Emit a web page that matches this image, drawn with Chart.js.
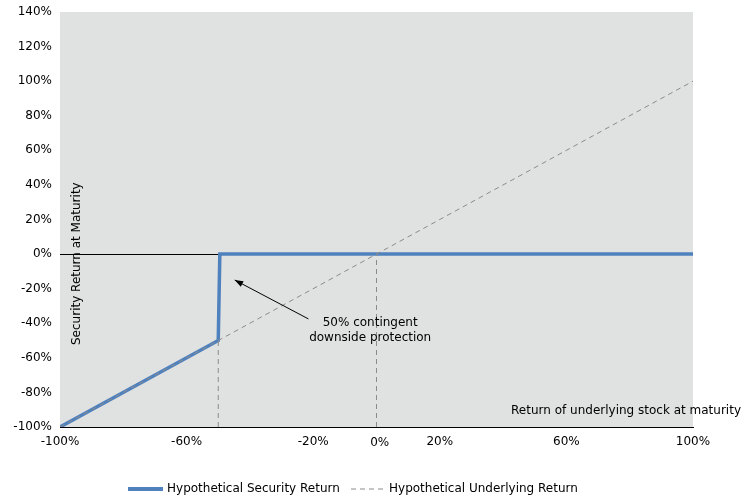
<!DOCTYPE html>
<html>
<head>
<script src="https://cdn.jsdelivr.net/npm/chart.js"></script>
<style>
  body { margin: 0; background: #fff; }
  #wrap { width: 746px; height: 501px; }
</style>
</head>
<body>
<div id="wrap"><canvas id="c"></canvas></div>
<script>
// values (x = underlying return %, y = security return %)
var securityX = [-100, -50, -49.5, 100];
var securityY = [-100, -50, 0, 0];
var underlyingX = [-100, 100];
var underlyingY = [-100, 100];
var barrierX = [-50, -50];
var barrierY = [-100, -50];
var zeroX = [0, 0];
var zeroY = [-100, 0];
var noteLines = ['50% contingent', 'downside protection'];

function pts(xs, ys) { return xs.map(function (x, i) { return { x: x, y: ys[i] }; }); }

var font = '12px "DejaVu Sans", Verdana, sans-serif';

var extras = {
  id: 'extras',
  beforeDatasetsDraw: function (chart) {
    var c = chart.ctx, a = chart.chartArea, y = chart.scales.y;
    c.save();
    c.fillStyle = '#e0e1e1';
    c.fillRect(a.left, a.top, a.right - a.left, a.bottom - a.top);
    c.strokeStyle = '#000'; c.lineWidth = 1;
    var y0 = Math.round(y.getPixelForValue(0)) + 0.5;
    c.beginPath(); c.moveTo(a.left, y0); c.lineTo(a.right, y0); c.stroke();
    c.restore();
  },
  afterDraw: function (chart) {
    var c = chart.ctx, a = chart.chartArea, x = chart.scales.x, y = chart.scales.y;
    c.save();
    c.font = font; c.fillStyle = '#000';
    // 0% label
    c.textAlign = 'center'; c.textBaseline = 'top';
    c.fillText('0%', x.getPixelForValue(1), a.bottom + 10);
    // axis titles inside plot
    c.textAlign = 'right'; c.textBaseline = 'bottom';
    c.fillText('Return of underlying stock at maturity', a.right + 48, a.bottom - 10);
    c.save();
    c.translate(a.left + 17, a.bottom - 82);
    c.rotate(-Math.PI / 2);
    c.textAlign = 'left'; c.textBaseline = 'middle';
    c.fillText('Security Return at Maturity', 0, 0);
    c.restore();
    // annotation
    c.textAlign = 'center'; c.textBaseline = 'middle';
    var tx = x.getPixelForValue(-2);
    c.fillText(noteLines[0], tx, y.getPixelForValue(-39.5));
    c.fillText(noteLines[1], tx, y.getPixelForValue(-48.5));
    var x1 = x.getPixelForValue(-21.5), y1 = y.getPixelForValue(-37.5);
    var x2 = x.getPixelForValue(-44.8), y2 = y.getPixelForValue(-15);
    c.strokeStyle = '#000'; c.lineWidth = 1;
    c.beginPath(); c.moveTo(x1, y1); c.lineTo(x2, y2); c.stroke();
    var ang = Math.atan2(y2 - y1, x2 - x1);
    c.beginPath();
    c.moveTo(x2, y2);
    c.lineTo(x2 - 9 * Math.cos(ang - 0.35), y2 - 9 * Math.sin(ang - 0.35));
    c.lineTo(x2 - 9 * Math.cos(ang + 0.35), y2 - 9 * Math.sin(ang + 0.35));
    c.closePath(); c.fill();
    // legend
    var ly = 489;
    c.textAlign = 'left';
    c.strokeStyle = '#4f81bd'; c.lineWidth = 4;
    c.beginPath(); c.moveTo(128, ly); c.lineTo(163, ly); c.stroke();
    c.fillText('Hypothetical Security Return', 167, ly);
    c.strokeStyle = '#8c8c8c'; c.lineWidth = 1; c.setLineDash([5, 4]);
    c.beginPath(); c.moveTo(351, ly); c.lineTo(385, ly); c.stroke();
    c.setLineDash([]);
    c.fillText('Hypothetical Underlying Return', 389, ly);
    c.restore();
  }
};

new Chart(document.getElementById('c'), {
  type: 'scatter',
  data: {
    datasets: [
      { label: 'barrier', data: pts(barrierX, barrierY), showLine: true, borderColor: '#8c8c8c', borderWidth: 1, borderDash: [5, 4], pointRadius: 0 },
      { label: 'zero', data: pts(zeroX, zeroY), showLine: true, borderColor: '#8c8c8c', borderWidth: 1, borderDash: [5, 4], pointRadius: 0 },
      { label: 'Hypothetical Underlying Return', data: pts(underlyingX, underlyingY), showLine: true, borderColor: '#8c8c8c', borderWidth: 1, borderDash: [5, 4], pointRadius: 0 },
      { label: 'Hypothetical Security Return', data: pts(securityX, securityY), showLine: true, borderColor: '#4f81bd', borderWidth: 3.5, pointRadius: 0 }
    ]
  },
  options: {
    responsive: true, maintainAspectRatio: false, animation: false,
    layout: { padding: { top: 12, right: 53, left: 0, bottom: 0 } },
    plugins: { legend: { display: false }, tooltip: { enabled: false } },
    scales: {
      x: {
        type: 'linear', min: -100, max: 100,
        afterFit: function (s) { s.height = 74; },
        ticks: { stepSize: 40, color: '#000', font: { family: '"DejaVu Sans", Verdana, sans-serif', size: 12 }, callback: function (v) { return v + '%'; }, maxRotation: 0 },
        grid: { display: false, drawTicks: true, tickLength: 5, color: '#000' },
        border: { color: '#000' }
      },
      y: {
        min: -100, max: 140,
        afterFit: function (s) { s.width = 60; },
        ticks: { stepSize: 20, color: '#000', font: { family: '"DejaVu Sans", Verdana, sans-serif', size: 12 }, callback: function (v) { return v + '%'; } },
        grid: { display: false, drawTicks: true, tickLength: 5, color: '#000' },
        border: { color: '#000' }
      }
    }
  },
  plugins: [extras]
});
</script>
</body>
</html>
